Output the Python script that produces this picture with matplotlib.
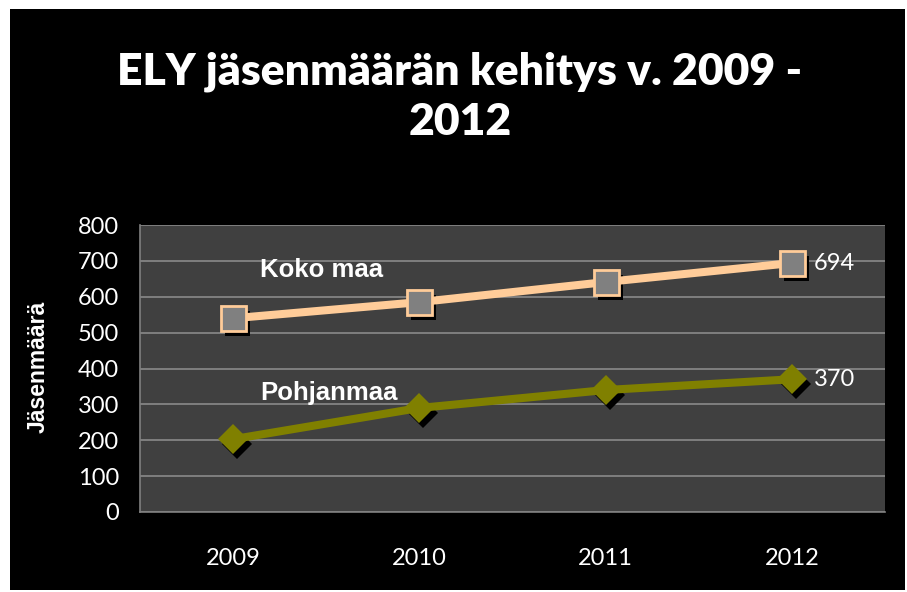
import matplotlib
matplotlib.use("Agg")
import matplotlib.pyplot as plt
import matplotlib.transforms as mtransforms
from matplotlib.patches import Rectangle

years = ["2009", "2010", "2011", "2012"]
koko_maa = [540, 585, 641, 694]
pohjanmaa = [203, 290, 340, 370]
yticks = [0, 100, 200, 300, 400, 500, 600, 700, 800]
title = "ELY jäsenmäärän kehitys v. 2009 -\n2012"
ylabel = "Jäsenmäärä"
series_names = ["Koko maa", "Pohjanmaa"]

fig = plt.figure(figsize=(9.07, 5.92), dpi=100, facecolor="white")
fig.patches.append(Rectangle((10/907, 2/592), 895/907, 581/592, transform=fig.transFigure,
                             facecolor="black", edgecolor="none", zorder=-5))

ax = fig.add_axes([140/907, 80/592, 745/907, 287/592])
ax.set_zorder(2)
ax.set_facecolor("#404040")
x = [i + 0.5 for i in range(len(years))]
ax.set_xlim(0, 4)
ax.set_ylim(0, 800)
ax.set_yticks(yticks)
ax.set_yticklabels([str(v) for v in yticks])
ax.set_xticks(x)
ax.set_xticklabels(years)
ax.yaxis.grid(True, color="#8a8a8a", linewidth=1.2)
ax.set_axisbelow(True)
for s in ["top", "right"]:
    ax.spines[s].set_visible(False)
for s in ["left", "bottom"]:
    ax.spines[s].set_color("#808080")
    ax.spines[s].set_linewidth(1.2)
ax.tick_params(axis="both", length=0, colors="white", labelsize=17)
ax.tick_params(axis="x", pad=26)
ax.tick_params(axis="y", pad=15)
for lab in ax.get_xticklabels() + ax.get_yticklabels():
    lab.set_fontfamily("Lato")
    lab.set_color("white")

shadow = mtransforms.offset_copy(ax.transData, fig=fig, x=4, y=-5, units="dots")

# shadows
ax.plot(x, koko_maa, linestyle="none", marker="s", markersize=18, color="black",
        markeredgewidth=0, transform=shadow, zorder=2, clip_on=False)
ax.plot(x, pohjanmaa, linestyle="none", marker="D", markersize=15, color="black",
        markeredgewidth=0, transform=shadow, zorder=2, clip_on=False)

ax.plot(x, koko_maa, color="#FFCC99", linewidth=5.8, marker="s", markersize=18,
        markerfacecolor="#808080", markeredgecolor="#FFCC99", markeredgewidth=2,
        zorder=3, clip_on=False)
ax.plot(x, pohjanmaa, color="#808000", linewidth=5.8, marker="D", markersize=15,
        markerfacecolor="#808000", markeredgecolor="#808000", markeredgewidth=0,
        zorder=3, clip_on=False)

ax.text(0.645, 674, series_names[0], color="white", fontsize=18.5, fontweight="bold",
        fontfamily="Liberation Sans", va="center", ha="left")
ax.text(0.645, 331, series_names[1], color="white", fontsize=18.5, fontweight="bold",
        fontfamily="Liberation Sans", va="center", ha="left")

ax.annotate(str(koko_maa[-1]), (x[-1], koko_maa[-1]), xytext=(16, 0), textcoords="offset points",
            color="white", fontsize=17, fontfamily="Lato", va="center", ha="left")
ax.annotate(str(pohjanmaa[-1]), (x[-1], pohjanmaa[-1]), xytext=(16, 0), textcoords="offset points",
            color="white", fontsize=17, fontfamily="Lato", va="center", ha="left")

fig.text(38/907, 1 - 367/592, ylabel, rotation=90, color="white", fontsize=16.5,
         fontweight="bold", fontfamily="Liberation Sans", va="center", ha="center")
fig.text(460/907, 1 - 97/592, title, color="white", fontsize=32, fontweight="heavy",
         fontfamily="Lato", va="center", ha="center", linespacing=1.3)

fig.savefig("out.png", dpi=100, facecolor="white")
